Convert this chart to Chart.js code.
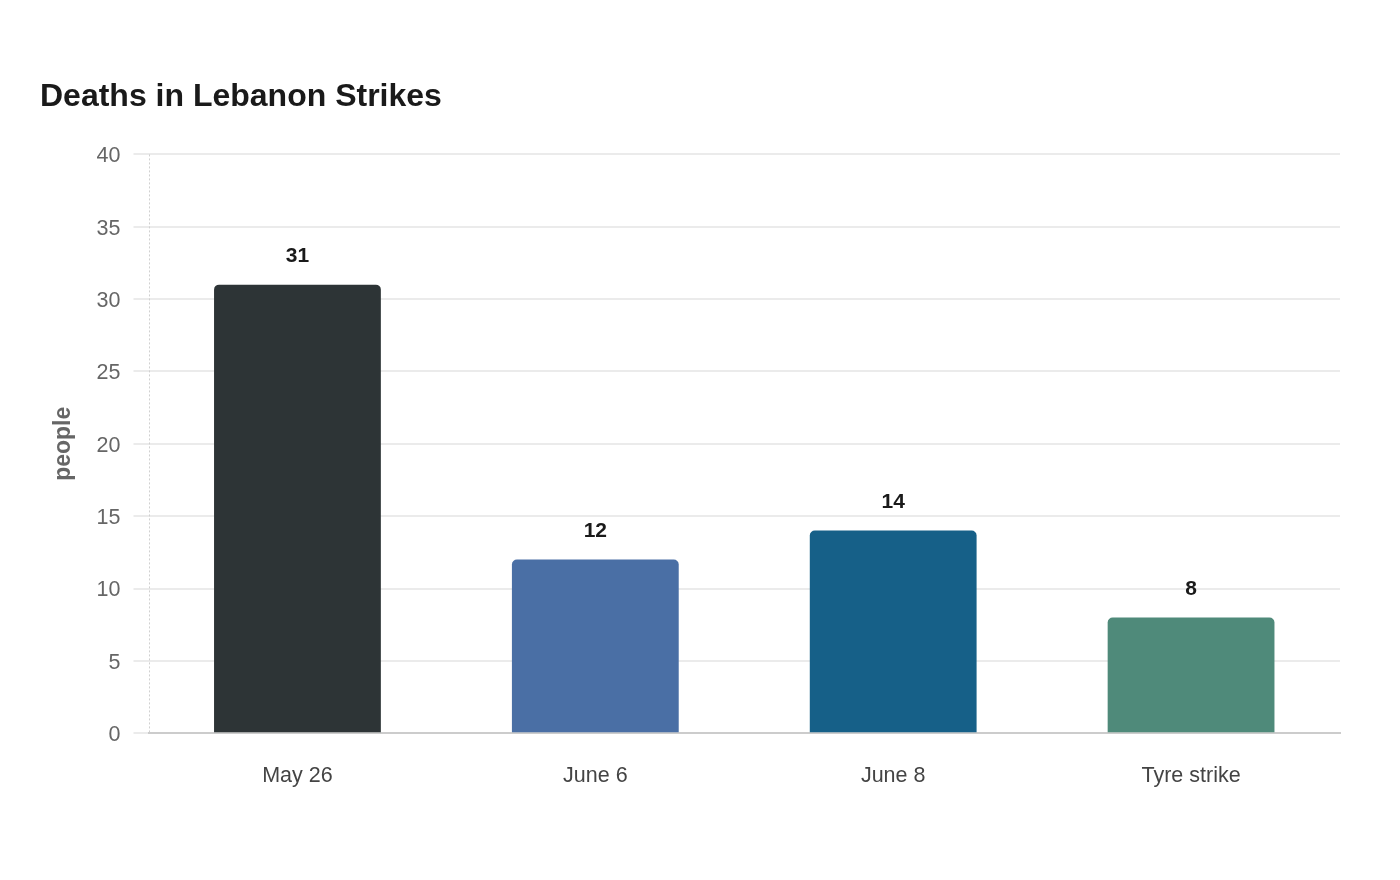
<!DOCTYPE html>
<html>
<head>
<meta charset="utf-8">
<script src="https://cdn.jsdelivr.net/npm/chart.js@4/dist/chart.umd.min.js"></script>
<style>
html,body{margin:0;padding:0;background:#fff;}
#wrap{width:1400px;height:880px;position:relative;}
</style>
</head>
<body>
<div id="wrap"><canvas id="c" width="1400" height="880"></canvas></div>
<script>
const categories = ["May 26", "June 6", "June 8", "Tyre strike"];
const deaths = [31, 12, 14, 8];
const barColors = ["#2d3436", "#4a6fa5", "#166088", "#4f8a7a"];
const yTicks = [0, 5, 10, 15, 20, 25, 30, 35, 40];

const valueLabels = {
  id: 'valueLabels',
  beforeDatasetsDraw(chart) {
    const ctx = chart.ctx;
    const a = chart.chartArea;
    ctx.save();
    ctx.strokeStyle = '#d0d0d0';
    ctx.lineWidth = 1;
    ctx.setLineDash([2, 2]);
    ctx.beginPath();
    ctx.moveTo(Math.round(a.left) + 0.5, a.top);
    ctx.lineTo(Math.round(a.left) + 0.5, a.bottom);
    ctx.stroke();
    ctx.restore();
  },
  afterDatasetsDraw(chart) {
    const ctx = chart.ctx;
    const meta = chart.getDatasetMeta(0);
    ctx.save();
    ctx.font = 'bold 21px "Liberation Sans", Arial, sans-serif';
    ctx.fillStyle = '#1a1a1a';
    ctx.textAlign = 'center';
    ctx.textBaseline = 'middle';
    meta.data.forEach((bar, i) => {
      ctx.fillText(String(chart.data.datasets[0].data[i]), bar.x, bar.y - 28);
    });
    ctx.restore();
  }
};

Chart.defaults.font.family = '"Liberation Sans", Arial, sans-serif';

new Chart(document.getElementById('c'), {
  type: 'bar',
  data: {
    labels: categories,
    datasets: [{
      data: deaths,
      backgroundColor: barColors,
      borderRadius: {topLeft: 5, topRight: 5, bottomLeft: 0, bottomRight: 0},
      borderSkipped: false,
      categoryPercentage: 1.0,
      barPercentage: 0.56
    }]
  },
  options: {
    responsive: false,
    animation: false,
    layout: {padding: {top: 78, left: 40, right: 60, bottom: 61}},
    plugins: {
      legend: {display: false},
      tooltip: {enabled: false},
      title: {
        display: true,
        text: 'Deaths in Lebanon Strikes',
        align: 'start',
        color: '#1a1a1a',
        font: {size: 32, weight: 'bold'},
        padding: {top: 0, bottom: 38}
      }
    },
    scales: {
      x: {
        grid: {display: false, drawTicks: false},
        border: {color: '#cccccc', width: 2},
        ticks: {color: '#444444', font: {size: 21.5}, padding: 30}
      },
      y: {
        min: 0, max: 40,
        afterBuildTicks(axis) { axis.ticks = yTicks.map(v => ({value: v})); },
        grid: {color: '#ebebeb', lineWidth: 2, tickLength: 15},
        border: {display: false},
        ticks: {color: '#666666', font: {size: 21.5}, padding: 13, labelOffset: 2},
        title: {display: true, text: 'people', color: '#666666', font: {size: 23, weight: 'bold'}, padding: {top: 10, bottom: 6}}
      }
    }
  },
  plugins: [valueLabels]
});
</script>
</body>
</html>
